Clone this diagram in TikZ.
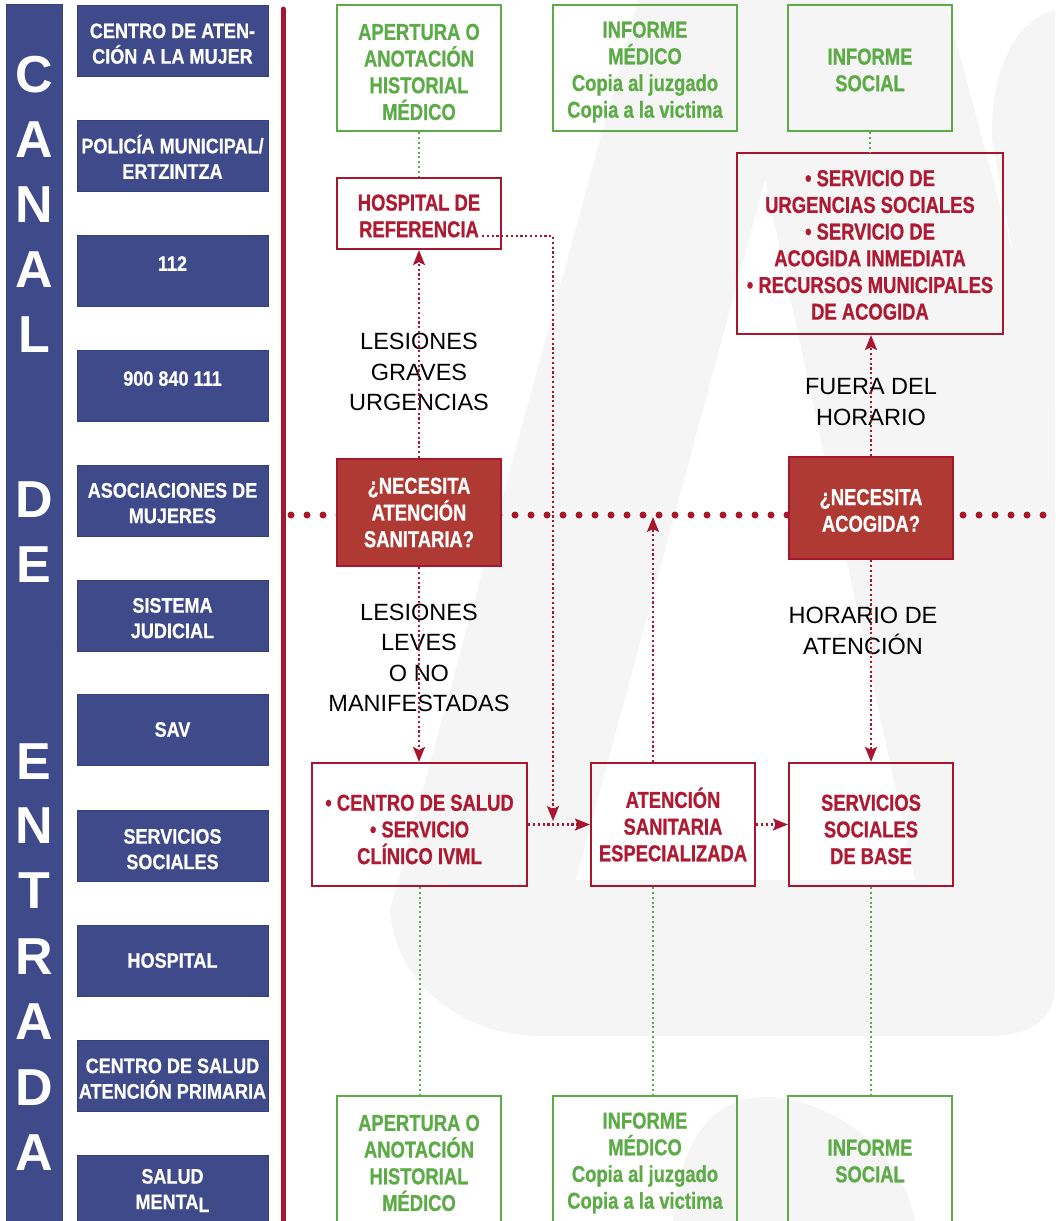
\documentclass[tikz,border=0pt]{standalone}
\usepackage{fontspec}
\setmainfont{Liberation Sans}
\newfontfamily\narrowfont[FakeStretch=0.8,FakeBold=0.8]{Liberation Sans}
\newfontfamily\canalfont[FakeStretch=0.86,FakeBold=0.6]{Liberation Sans}
\usetikzlibrary{arrows.meta}
\definecolor{canalblue}{HTML}{3E4A89}
\definecolor{canaledge}{HTML}{34407C}
\definecolor{linered}{HTML}{A8152E}
\definecolor{askred}{HTML}{AF3A33}
\definecolor{textred}{HTML}{AD1A31}
\definecolor{docgreen}{HTML}{5CAB47}
\definecolor{watermark}{HTML}{F5F5F5}
\newcommand\topgap[1]{\rule{0pt}{#1}}

\begin{document}
\begin{tikzpicture}[x=1pt, y=-1pt,
  canal/.style={fill=canalblue, draw=canaledge, line width=1pt, minimum width=191pt, minimum height=71pt, inner sep=0pt, text=white, align=center, font=\canalfont\bfseries\fontsize{21}{25.5}\selectfont},
  letter/.style={text=white, inner sep=0pt, font=\bfseries\fontsize{52}{52}\selectfont},
  redbox/.style={draw=linered, line width=2.2pt, inner sep=0pt, text=textred, align=center, font=\narrowfont\bfseries\fontsize{23}{26.7}\selectfont},
  askbox/.style={draw=linered, fill=askred, line width=2.2pt, inner sep=0pt, text=white, align=center, font=\narrowfont\bfseries\fontsize{23}{26.7}\selectfont},
  docbox/.style={draw=docgreen, line width=2.6pt, inner sep=0pt, text=docgreen, align=center, minimum height=126pt, font=\narrowfont\bfseries\fontsize{23}{26.7}\selectfont},
  cond/.style={inner sep=0pt, align=center, font=\fontsize{23.5}{30.5}\selectfont},
  flow/.style={draw=linered, line width=2.2pt, dash pattern=on 2.2pt off 2.6pt, -{Stealth[length=15pt,width=12pt,inset=3pt]}},
  docline/.style={draw=docgreen, line width=2pt, dash pattern=on 2pt off 2.8pt}
]
\useasboundingbox (0,0) rectangle (1055,1221);
\clip (0,0) rectangle (1055,1221);

% watermark
\fill[watermark] (638,0) -- (945,0) -- (1055,410) -- (1055,985) .. controls (1055,1020) and (1030,1036) .. (990,1036) -- (540,1036) .. controls (460,1036) and (394,980) .. (390,910) -- cycle;
\fill[white] (765,180) -- (915,880) -- (576,880) -- cycle;
\fill[watermark] (1055,10) .. controls (1015,20) and (990,70) .. (992,140) -- (1055,480) -- cycle;
\fill[watermark] (673,1221) .. controls (680,1130) and (720,1097) .. (765,1097) .. controls (820,1097) and (900,1140) .. (915,1221) -- cycle;

% canal de entrada
\filldraw[fill=canalblue, draw=canaledge, line width=1pt] (6,4) rectangle (62,1240);
\node[letter] at (34,75) {C};
\node[letter] at (34,140) {A};
\node[letter] at (34,205) {N};
\node[letter] at (34,270) {A};
\node[letter] at (34,335) {L};
\node[letter] at (34,500) {D};
\node[letter] at (34,565) {E};
\node[letter] at (34,762) {E};
\node[letter] at (34,826) {N};
\node[letter] at (34,891) {T};
\node[letter] at (34,957) {R};
\node[letter] at (34,1022) {A};
\node[letter] at (34,1088) {D};
\node[letter] at (34,1153) {A};

\node[canal] (centro) at (172.5,40.5) {\topgap{21pt}CENTRO DE ATEN-\\CIÓN A LA MUJER};
\node[canal] (policia) at (172.5,155.5) {\topgap{21pt}POLICÍA MUNICIPAL/\\ERTZINTZA};
\node[canal] (emerg) at (172.5,270.5) {\raisebox{14pt}{112}};
\node[canal] (tel) at (172.5,385.5) {\raisebox{14pt}{900 840 111}};
\node[canal] (asoc) at (172.5,500.5) {\topgap{20pt}ASOCIACIONES DE\\MUJERES};
\node[canal] (judicial) at (172.5,615.5) {\topgap{20pt}SISTEMA\\JUDICIAL};
\node[canal] (sav) at (172.5,729.5) {SAV};
\node[canal] (servsoc) at (172.5,845.5) {\topgap{22pt}SERVICIOS\\SOCIALES};
\node[canal] (hospital) at (172.5,960.5) {HOSPITAL};
\node[canal] (primaria) at (172.5,1075.5) {\topgap{21pt}CENTRO DE SALUD\\ATENCIÓN PRIMARIA};
\node[canal] (mental) at (172.5,1190.5) {SALUD\\MENTA\raisebox{-3pt}{L}};

\draw[linered, line width=5pt, line cap=round] (283,9) -- (283,1240);

% dotted divide
\coordinate (dotL) at (291,515);
\coordinate (dotR) at (1062,515);
\coordinate (dotmid) at (653,517);
\draw[linered, line width=7pt, line cap=round, dash pattern=on 0pt off 16pt] (dotL) -- (dotR);

% top documents
\node[docbox, minimum width=164pt] (histtop) at (419,68) {\topgap{24pt}APERTURA O\\ANOTACIÓN\\HISTORIAL\\MÉDICO};
\node[docbox, minimum width=184pt] (medtop) at (645,68) {\topgap{24pt}INFORME\\MÉDICO\\Copia al juzgado\\Copia a la victima};
\node[docbox, minimum width=164pt] (socialtop) at (870,68) {\topgap{20pt}INFORME\\SOCIAL};

\node[redbox, minimum width=164pt, minimum height=71pt] (hosp) at (419,213.5) {\topgap{21pt}HOSPITAL DE\\REFERENCIA};
\node[redbox, minimum width=266pt, minimum height=181pt] (urg) at (870,243.5) {\topgap{19pt}• SERVICIO DE\\URGENCIAS SOCIALES\\• SERVICIO DE\\ACOGIDA INMEDIATA\\• RECURSOS MUNICIPALES\\DE ACOGIDA};

\node[askbox, minimum width=164pt, minimum height=107pt] (q1) at (419,512.5) {¿NECESITA\\ATENCIÓN\\SANITARIA?};
\node[askbox, minimum width=164pt, minimum height=102pt] (q2) at (871,508) {\topgap{21pt}¿NECESITA\\ACOGIDA?};

\node[redbox, minimum width=215pt, minimum height=123pt] (b1) at (419.5,824.5) {\topgap{26pt}• CENTRO DE SALUD\\• SERVICIO\\CLÍNICO IVML};
\node[redbox, minimum width=164pt, minimum height=123pt] (b2) at (673,824.5) {ATENCIÓN\\SANITARIA\\ESPECIALIZADA};
\node[redbox, minimum width=164pt, minimum height=123pt] (b3) at (871,824.5) {\topgap{26pt}SERVICIOS\\SOCIALES\\DE BASE};

% bottom documents
\node[docbox, minimum width=164pt] (histbot) at (419,1159) {\topgap{24pt}APERTURA O\\ANOTACIÓN\\HISTORIAL\\MÉDICO};
\node[docbox, minimum width=184pt] (medbot) at (645,1159) {\topgap{24pt}INFORME\\MÉDICO\\Copia al juzgado\\Copia a la victima};
\node[docbox, minimum width=164pt] (socialbot) at (870,1159) {\topgap{20pt}INFORME\\SOCIAL};

% labels
\node[cond] (graves) at (419,372) {LESIONES\\GRAVES\\URGENCIAS};
\node[cond] (leves) at (419,658) {LESIONES\\LEVES\\O NO\\MANIFESTADAS};
\node[cond] (fuera) at (871,402) {FUERA DEL\\HORARIO};
\node[cond] (horario) at (863,631) {HORARIO DE\\ATENCIÓN};

% connectors
\coordinate (refend) at (482,236);
\coordinate (join) at (553,821);
\draw[docline] (histtop) -- (hosp);
\draw[docline] (socialtop) -- (urg);
\draw[flow] (q1) -- (hosp);
\draw[flow] (q1.south) -- (q1.south |- b1.north);
\draw[flow] (refend) -| (join);
\draw[flow] (b1) -- (b2);
\draw[flow] (dotmid |- b2.north) -- (dotmid);
\draw[flow] (b2) -- (b3);
\draw[flow] (q2.north) -- (q2.north |- urg.south);
\draw[flow] (q2) -- (b3);
\draw[docline] (b1.south) -- (b1.south |- histbot.north);
\draw[docline] (dotmid |- b2.south) -- (dotmid |- medbot.north);
\draw[docline] (b3.south) -- (b3.south |- socialbot.north);
\end{tikzpicture}
\end{document}
